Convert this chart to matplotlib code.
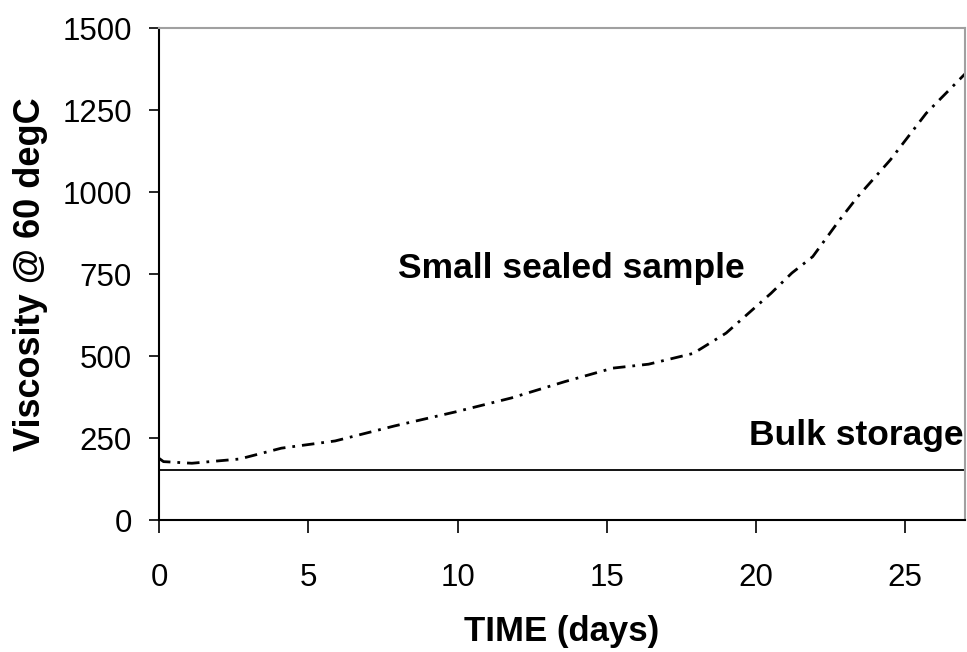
import matplotlib
matplotlib.use("Agg")
import matplotlib.pyplot as plt

# small sealed sample
days = [0.0, 0.15, 1.1, 2.7, 4.1, 5.9, 7.9, 9.95, 11.8, 13.6, 15.2, 16.4,
        17.9, 19.0, 20.5, 21.2, 21.9, 22.8, 23.4, 24.5, 25.7, 27.0]
viscosity = [188, 178, 173, 186, 219, 241, 287, 330, 372, 422, 463, 475,
             508, 570, 691, 753, 803, 915, 985, 1098, 1240, 1360]

# bulk storage stays flat
bulk_days = [0, 27]
bulk_visc = [152, 152]

x_ticks = [0, 5, 10, 15, 20, 25]
y_ticks = [0, 250, 500, 750, 1000, 1250, 1500]

plt.rcParams['font.family'] = ['Liberation Sans', 'DejaVu Sans']

fig = plt.figure(figsize=(9.67, 6.52), dpi=100)
ax = fig.add_axes([159 / 967, 1 - 520 / 652, (965 - 159) / 967, (520 - 28) / 652])

ax.plot(days, viscosity, color='black', lw=2.0, dashes=(4.5, 2.5, 1.0, 2.5))
ax.plot(bulk_days, bulk_visc, color='black', lw=1.3)

ax.set_xlim(0, 27)
ax.set_ylim(0, 1500)
ax.set_xticks(x_ticks)
ax.set_yticks(y_ticks)

for s in ['top', 'right']:
    ax.spines[s].set_color('#a0a0a0')
    ax.spines[s].set_linewidth(1.5)
for s in ['left', 'bottom']:
    ax.spines[s].set_color('black')
    ax.spines[s].set_linewidth(1.5)

ax.tick_params(axis='y', direction='out', length=7.5, width=1.2, pad=12, labelsize=22.5)
ax.tick_params(axis='x', direction='out', length=9, width=1.2, pad=22, labelsize=22.5)

ax.set_ylabel('Viscosity @ 60 degC', fontsize=26, fontweight='bold', labelpad=10)
ax.set_xlabel('TIME (days)', fontsize=25, fontweight='bold', labelpad=16)

ax.text(13.8, 768, 'Small sealed sample', fontsize=25.5, fontweight='bold',
        ha='center', va='center')
ax.text(26.95, 259, 'Bulk storage', fontsize=25.5, fontweight='bold',
        ha='right', va='center')

fig.savefig('out.png', dpi=100)
